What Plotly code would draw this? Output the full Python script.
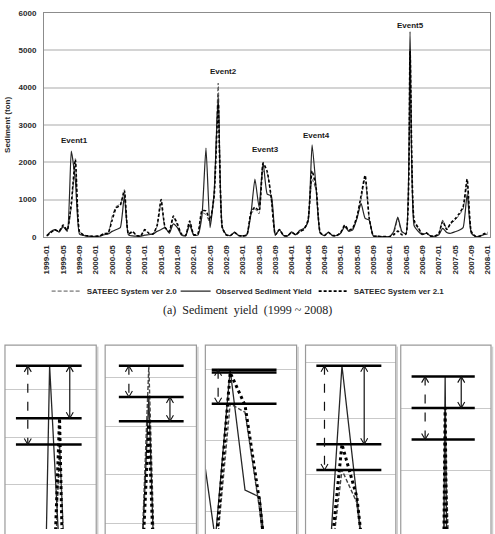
import plotly.graph_objects as go

W, H = 495, 534

# ---------------- data ----------------
months = [f"{y}-{m:02d}" for y in range(1999, 2009) for m in range(1, 13)][:109]
tick_labels = months[::4]

observed = [40, 150, 200, 130, 280, 150, 2300, 1500, 80, 40,
            20, 15, 15, 20, 60, 80, 150, 200, 250, 1100,
            60, 30, 20, 20, 50, 60, 80, 150, 200, 250,
            100, 350, 250, 50, 30, 320, 50, 50, 550, 2380,
            250, 1200, 3800, 250, 60, 40, 130, 40, 30, 60,
            600, 1550, 800, 2000, 1150, 1100, 50, 200, 40, 30,
            140, 60, 180, 230, 400, 2470, 1300, 100, 40, 130,
            40, 40, 100, 280, 150, 200, 500, 900, 500, 450,
            30, 20, 10, 10, 10, 150, 530, 150, 80, 5500,
            300, 150, 60, 100, 30, 20, 50, 230, 120, 100,
            140, 180, 250, 1150, 100, 20, 20, 60, 80]

sateec_v21 = [30, 120, 190, 150, 320, 180, 900, 2080, 150, 50,
              30, 20, 20, 30, 90, 100, 450, 780, 850, 1250,
              80, 150, 40, 30, 200, 100, 80, 300, 1000, 250,
              150, 560, 350, 80, 40, 430, 60, 80, 700, 700,
              450, 1100, 3550, 250, 50, 40, 120, 40, 30, 50,
              650, 800, 700, 1980, 1750, 1050, 60, 200, 40, 30,
              120, 60, 150, 200, 450, 1770, 1300, 120, 40, 120,
              40, 40, 120, 320, 180, 250, 550, 1100, 1650, 500,
              30, 20, 10, 10, 10, 60, 160, 60, 80, 5000,
              450, 250, 80, 110, 30, 20, 80, 420, 200, 380,
              480, 620, 800, 1550, 150, 20, 20, 80, 120]

sateec_v20 = [30, 130, 180, 140, 300, 170, 800, 1970, 150, 50,
              30, 20, 20, 30, 80, 90, 550, 820, 880, 1180,
              70, 120, 40, 30, 180, 90, 80, 280, 900, 230,
              130, 520, 320, 70, 40, 400, 60, 80, 650, 600,
              380, 1150, 4120, 300, 60, 40, 110, 40, 30, 50,
              600, 750, 620, 1760, 1700, 1000, 60, 180, 40, 30,
              120, 60, 150, 200, 420, 1540, 1250, 110, 40, 110,
              40, 40, 110, 300, 170, 230, 500, 1000, 1600, 480,
              30, 20, 10, 10, 10, 100, 480, 120, 80, 4500,
              400, 220, 80, 100, 30, 20, 70, 450, 210, 350,
              450, 580, 750, 1450, 130, 20, 20, 60, 100]

event_labels = ["Event1", "Event2", "Event3", "Event4", "Event5"]
event_months = [6, 42, 53, 65, 89]

# ---------------- helpers ----------------
def fx(p):
    return p / W

def fy(p):
    return 1 - p / H

idx = list(range(len(months)))
fig = go.Figure()

LBL = dict(family="Liberation Sans", size=8, color="#2a2a2a", weight="bold")

# main chart traces (legend order as in reference)
fig.add_trace(go.Scatter(x=idx, y=sateec_v20, mode="lines", name="SATEEC System ver 2.0",
                         legendwidth=84,
                         line=dict(color="#555555", width=1, dash="4px,2px", shape="spline", smoothing=0.5)))
fig.add_trace(go.Scatter(x=idx, y=observed, mode="lines", name="Observed Sediment Yield",
                         legendwidth=93,
                         line=dict(color="#262626", width=1.2, shape="spline", smoothing=0.5)))
fig.add_trace(go.Scatter(x=idx, y=sateec_v21, mode="lines", name="SATEEC System ver 2.1",
                         line=dict(color="#000000", width=1.6, dash="3px,2px", shape="spline", smoothing=0.5)))

layout = dict(
    width=W, height=H, autosize=False,
    margin=dict(l=0, r=0, t=0, b=0),
    paper_bgcolor="white", plot_bgcolor="white",
    showlegend=True,
    legend=dict(orientation="h", x=fx(45), xanchor="left", y=fy(292), yanchor="middle",
                font=LBL, bgcolor="rgba(0,0,0,0)", itemwidth=30),
    xaxis=dict(domain=[fx(42.3), fx(492)], range=[-0.7, 108.6], anchor="y",
               tickvals=idx[::4], ticktext=tick_labels, tickangle=-90, tickfont=LBL,
               ticks="", ticklabelstandoff=4, showgrid=False, zeroline=False,
               showline=True, linecolor="#8c8c8c", linewidth=1, mirror=True),
    yaxis=dict(domain=[fy(237), fy(9)], range=[0, 6000], dtick=1000, anchor="x",
               tickfont=LBL, ticks="", ticklabelstandoff=5,
               gridcolor="#d4d4d4", gridwidth=1.5, zeroline=False,
               showline=True, linecolor="#8c8c8c", linewidth=1, mirror=True,
               title=dict(text="Sediment (ton)", font=LBL, standoff=6)),
)

annotations = []
shapes = []

# event labels
label_offsets = [(3.4, 10.6), (5.7, 12), (2.5, 12.7), (4.4, 9.1), (0, 6.3)]
for lab, m, (dx, dy) in zip(event_labels, event_months, label_offsets):
    top = max(observed[m], sateec_v20[m], sateec_v21[m])
    annotations.append(dict(x=m, y=top, xref="x", yref="y", text=lab, showarrow=False,
                            xshift=dx, yshift=dy, yanchor="middle",
                            font=dict(family="Liberation Sans", size=8, color="#1a1a1a", weight="bold")))

# caption
annotations.append(dict(x=fx(247), y=fy(311.5), xref="paper", yref="paper",
                        text="(a)  Sediment  yield  (1999 ~ 2008)", showarrow=False,
                        font=dict(family="Liberation Serif", size=12, color="#222222")))

# ---------------- zoom panels ----------------
panels = [
    dict(px=(3, 95), xr=(1.5, 10.7), yr=(1615, 2387), dtick=200, hl=(0.12, 0.84), dx=0.25, sx=0.71),
    dict(px=(104, 196), xr=(38.0, 46.36), yr=(2443, 4332), dtick=500, hl=(0.15, 0.86), dx=0.26, sx=0.71),
    dict(px=(205, 297), xr=(51.33, 57.47), yr=(875, 2174), dtick=500, hl=(0.07, 0.78), dx=0.14, sx=0.60),
    dict(px=(306, 397), xr=(62.55, 68.62), yr=(1014, 2654), dtick=500, hl=(0.12, 0.84), dx=0.21, sx=0.65),
    dict(px=(402, 493), xr=(74.1, 104.4), yr=(3078, 6000), dtick=1000, hl=(0.12, 0.82), dx=0.27, sx=0.67),
]
PTOP = 347


def head(n, xf, yv, up):
    sgn = -1 if up else 1
    return dict(type="path", xref=f"x{n} domain", yref=f"y{n}",
                xsizemode="pixel", ysizemode="pixel", xanchor=xf, yanchor=yv,
                path=f"M -3.5,{sgn*6} L 0,0 L 3.5,{sgn*6}",
                line=dict(color="#111111", width=1.1))


for k, (p, m) in enumerate(zip(panels, event_months)):
    n = k + 2
    layout[f"xaxis{n}"] = dict(domain=[fx(p["px"][0]), fx(p["px"][1])], range=list(p["xr"]),
                               anchor=f"y{n}", showgrid=False, showticklabels=False,
                               zeroline=False, showline=False, ticks="")
    layout[f"yaxis{n}"] = dict(domain=[0, fy(PTOP)], range=list(p["yr"]), dtick=p["dtick"], tick0=0,
                               anchor=f"x{n}", showgrid=True, gridcolor="#c9c9c9", gridwidth=1,
                               showticklabels=False, zeroline=False, showline=False, ticks="")
    fig.add_trace(go.Scatter(x=idx, y=observed, mode="lines", showlegend=False, hoverinfo="skip",
                             xaxis=f"x{n}", yaxis=f"y{n}", line=dict(color="#262626", width=1.3)))
    fig.add_trace(go.Scatter(x=idx, y=sateec_v20, mode="lines", showlegend=False, hoverinfo="skip",
                             xaxis=f"x{n}", yaxis=f"y{n}",
                             line=dict(color="#444444", width=1.4, dash="4px,2px")))
    fig.add_trace(go.Scatter(x=idx, y=sateec_v21, mode="lines", showlegend=False, hoverinfo="skip",
                             xaxis=f"x{n}", yaxis=f"y{n}",
                             line=dict(color="#000000", width=3, dash="dot")))

    w = slice(m - 1, m + 2)
    o_pk, a_pk, b_pk = max(observed[w]), max(sateec_v21[w]), max(sateec_v20[w])
    for val in (o_pk, a_pk, b_pk):
        shapes.append(dict(type="line", xref=f"x{n} domain", yref=f"y{n}",
                           x0=p["hl"][0], x1=p["hl"][1], y0=val, y1=val,
                           line=dict(color="#000000", width=2.5)))
    scale = (H - PTOP) / (p["yr"][1] - p["yr"][0])
    for xf, model_pk, dash in ((p["dx"], b_pk, "dash"), (p["sx"], a_pk, "solid")):
        if abs(model_pk - o_pk) * scale < 12:
            continue
        hi, lo = max(model_pk, o_pk), min(model_pk, o_pk)
        shapes.append(dict(type="line", xref=f"x{n} domain", yref=f"y{n}",
                           x0=xf, x1=xf, y0=hi, y1=lo,
                           line=dict(color="#111111", width=1.2, dash=dash)))
        shapes.append(head(n, xf, hi, True))
        shapes.append(head(n, xf, lo, False))
    # panel frame with a faint shadow
    shapes.append(dict(type="line", xref="paper", yref="paper",
                       x0=fx(p["px"][1] + 1.5), x1=fx(p["px"][1] + 1.5), y0=-0.05, y1=fy(PTOP + 1.5),
                       line=dict(color="#d0d0d0", width=1.5)))
    shapes.append(dict(type="rect", xref="paper", yref="paper",
                       x0=fx(p["px"][0]), x1=fx(p["px"][1]), y0=-0.05, y1=fy(PTOP),
                       line=dict(color="#9a9a9a", width=1.2)))

layout["annotations"] = annotations
layout["shapes"] = shapes
fig.update_layout(**layout)
fig.write_html("out.html")
